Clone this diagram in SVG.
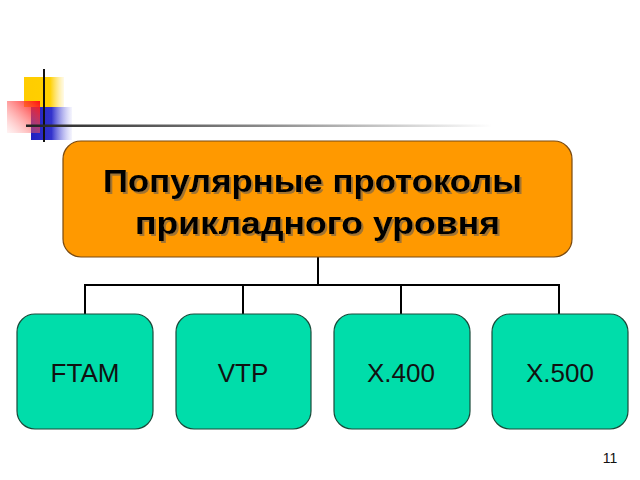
<svg xmlns="http://www.w3.org/2000/svg" width="640" height="480" viewBox="0 0 640 480">
<defs>
<linearGradient id="gy" x1="0" y1="0" x2="1" y2="0"><stop offset="0" stop-color="#FFCC00"/><stop offset="0.65" stop-color="#FFD000"/><stop offset="1" stop-color="#FFE060" stop-opacity="0.15"/></linearGradient>
<linearGradient id="gr" x1="1" y1="0" x2="0" y2="1"><stop offset="0" stop-color="#FF1010"/><stop offset="1" stop-color="#FF9090" stop-opacity="0.1"/></linearGradient>
<linearGradient id="gb" x1="0" y1="0" x2="1" y2="0"><stop offset="0" stop-color="#2020C0"/><stop offset="0.5" stop-color="#3333CC"/><stop offset="1" stop-color="#9999EE" stop-opacity="0.1"/></linearGradient>
<linearGradient id="gl" x1="0" y1="0" x2="1" y2="0"><stop offset="0" stop-color="#222"/><stop offset="0.5" stop-color="#888"/><stop offset="1" stop-color="#fff"/></linearGradient>
<filter id="sh" x="-5%" y="-20%" width="110%" height="140%"><feDropShadow dx="2" dy="2" stdDeviation="0.6" flood-color="#8a6a40" flood-opacity="0.8"/></filter>
</defs>
<style>
.top{fill:#FF9900;stroke:#7a4a10;stroke-width:1.2}
.leaf{fill:#00DDAA;stroke:#1a4a3a;stroke-width:1.2}
.conn{fill:none;stroke:#000;stroke-width:2}
.title{font-family:"Liberation Sans",Arial,sans-serif;font-weight:bold;font-size:32px;text-anchor:middle;fill:#000;filter:url(#sh)}
.lbl{font-family:"Liberation Sans",Arial,sans-serif;font-size:26px;text-anchor:middle;fill:#111}
</style>
<g id="decor">
<rect x="24" y="77" width="40" height="30" fill="url(#gy)"/>
<rect x="31" y="107" width="41" height="33" fill="url(#gb)"/>
<rect x="7" y="101" width="33" height="32" fill="url(#gr)"/>
<line x1="44" y1="69" x2="44" y2="142" stroke="#111" stroke-width="2"/>
<rect x="26" y="124.5" width="466" height="2.5" fill="url(#gl)"/>
</g>
<g id="connectors">
<path class="conn" d="M318 257V285M85 314V285H559V314M243 285V314M401 285V314"/>
</g>
<g id="root">
<rect class="top" x="63" y="141" width="509" height="116" rx="18"/>
<text class="title" x="312.5" y="192" textLength="419" lengthAdjust="spacingAndGlyphs">Популярные протоколы</text>
<text class="title" x="317.5" y="234" textLength="365" lengthAdjust="spacingAndGlyphs">прикладного уровня</text>
</g>
<g id="ftam"><rect class="leaf" x="17" y="314" width="136" height="115" rx="18"/><text class="lbl" x="85" y="382">FTAM</text></g>
<g id="vtp"><rect class="leaf" x="176" y="314" width="135" height="115" rx="18"/><text class="lbl" x="243" y="382">VTP</text></g>
<g id="x400"><rect class="leaf" x="334" y="314" width="136" height="115" rx="18"/><text class="lbl" x="401" y="382">X.400</text></g>
<g id="x500"><rect class="leaf" x="492" y="314" width="136" height="115" rx="18"/><text class="lbl" x="560" y="382">X.500</text></g>
<text x="610" y="463" font-family="Liberation Sans,Arial,sans-serif" font-size="14" text-anchor="middle" fill="#111">11</text>
</svg>
